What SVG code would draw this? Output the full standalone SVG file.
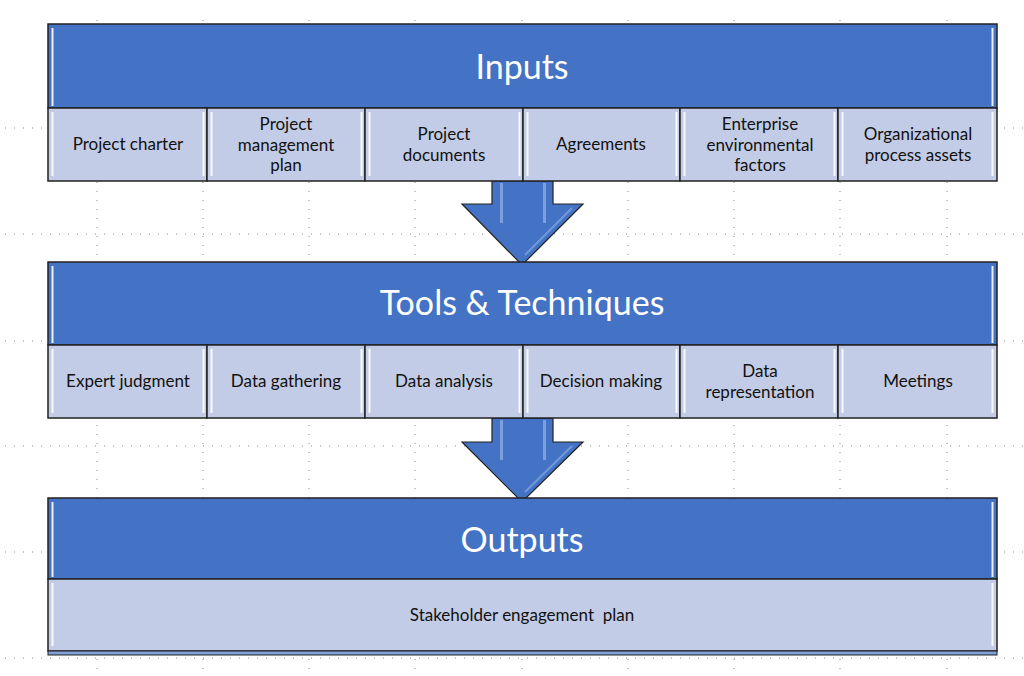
<svg xmlns="http://www.w3.org/2000/svg" width="1024" height="676" viewBox="0 0 1024 676">
<defs>
<style>
.grid{stroke:#8a8a8a;stroke-width:1;stroke-dasharray:1 8;fill:none}
.hdr{fill:#4472C4;stroke:#222;stroke-width:1.5}
.cell{fill:#C3CCE6;stroke:#222;stroke-width:1.5}
.ht{font-family:Lato,"Open Sans","Liberation Sans",sans-serif;font-size:34px;fill:#fff;text-anchor:middle}
.ct{font-family:Lato,"Open Sans","Liberation Sans",sans-serif;font-size:17px;fill:#111;text-anchor:middle}
.arrow{fill:#4472C4;stroke:#222;stroke-width:1.2}
.hl{fill:url(#hlg)}
</style>
<linearGradient id="hlg" x1="0" x2="1" y1="0" y2="0">
<stop offset="0" stop-color="#fff" stop-opacity="0.2"/>
<stop offset="0.5" stop-color="#fff" stop-opacity="0.9"/>
<stop offset="1" stop-color="#fff" stop-opacity="0.2"/>
</linearGradient>
</defs>
<rect width="1024" height="676" fill="#fff"/>
<g id="grid">
<path class="grid" d="M5 128H1024M5 234H1024M5 341H1024M5 446H1024M5 552H1024M5 658H1024"/>
<path class="grid" d="M97 20V676M203 20V676M309 20V676M415 20V676M522 20V676M628 20V676M734 20V676M840 20V676M947 20V676"/>
</g>
<g id="connectors">
<path class="arrow" d="M492 181H553V204H583L522 265L462 204H492Z"/>
<rect x="500" y="183" width="3" height="40" fill="#9fc0ef" opacity="0.6"/>
<rect x="543" y="183" width="3" height="40" fill="#9fc0ef" opacity="0.6"/>
<path d="M525 255L572 208" stroke="#8fb4ea" stroke-width="2" opacity="0.6"/>
<path class="arrow" d="M492 418H553V442H583L522 502L462 442H492Z"/>
<rect x="500" y="420" width="3" height="40" fill="#9fc0ef" opacity="0.6"/>
<rect x="543" y="420" width="3" height="40" fill="#9fc0ef" opacity="0.6"/>
<path d="M525 492L572 446" stroke="#8fb4ea" stroke-width="2" opacity="0.6"/>
</g>
<g id="inputs">
<rect class="hdr" x="48" y="24" width="949" height="84"/>
<rect class="hl" x="51" y="28" width="3" height="78"/>
<rect class="hl" x="991" y="28" width="3" height="78"/>
<text class="ht" x="522" y="79">Inputs</text>
</g>
<g id="in1"><rect class="cell" x="48" y="108" width="159" height="73"/><rect class="hl" x="51" y="112" width="3" height="64"/><rect class="hl" x="202" y="112" width="3" height="64"/><text class="ct" x="128" y="150">Project charter</text></g>
<g id="in2"><rect class="cell" x="207" y="108" width="158" height="73"/><rect class="hl" x="210" y="112" width="3" height="64"/><rect class="hl" x="360" y="112" width="3" height="64"/><text class="ct" x="286" y="130">Project</text><text class="ct" x="286" y="150.5">management</text><text class="ct" x="286" y="171">plan</text></g>
<g id="in3"><rect class="cell" x="365" y="108" width="158" height="73"/><rect class="hl" x="368" y="112" width="3" height="64"/><rect class="hl" x="518" y="112" width="3" height="64"/><text class="ct" x="444" y="140">Project</text><text class="ct" x="444" y="161">documents</text></g>
<g id="in4"><rect class="cell" x="523" y="108" width="157" height="73"/><rect class="hl" x="526" y="112" width="3" height="64"/><rect class="hl" x="675" y="112" width="3" height="64"/><text class="ct" x="601" y="150">Agreements</text></g>
<g id="in5"><rect class="cell" x="680" y="108" width="158" height="73"/><rect class="hl" x="683" y="112" width="3" height="64"/><rect class="hl" x="833" y="112" width="3" height="64"/><text class="ct" x="760" y="130">Enterprise</text><text class="ct" x="760" y="150.5">environmental</text><text class="ct" x="760" y="171">factors</text></g>
<g id="in6"><rect class="cell" x="838" y="108" width="159" height="73"/><rect class="hl" x="841" y="112" width="3" height="64"/><rect class="hl" x="991" y="112" width="3" height="64"/><text class="ct" x="918" y="140">Organizational</text><text class="ct" x="918" y="161">process assets</text></g>
<g id="tools">
<rect class="hdr" x="48" y="262" width="949" height="83"/>
<rect class="hl" x="51" y="266" width="3" height="77"/>
<rect class="hl" x="991" y="266" width="3" height="77"/>
<text class="ht" x="522" y="315">Tools &amp; Techniques</text>
</g>
<g id="t1"><rect class="cell" x="48" y="345" width="159" height="73"/><rect class="hl" x="51" y="349" width="3" height="64"/><rect class="hl" x="202" y="349" width="3" height="64"/><text class="ct" x="128" y="387">Expert judgment</text></g>
<g id="t2"><rect class="cell" x="207" y="345" width="158" height="73"/><rect class="hl" x="210" y="349" width="3" height="64"/><rect class="hl" x="360" y="349" width="3" height="64"/><text class="ct" x="286" y="387">Data gathering</text></g>
<g id="t3"><rect class="cell" x="365" y="345" width="158" height="73"/><rect class="hl" x="368" y="349" width="3" height="64"/><rect class="hl" x="518" y="349" width="3" height="64"/><text class="ct" x="444" y="387">Data analysis</text></g>
<g id="t4"><rect class="cell" x="523" y="345" width="157" height="73"/><rect class="hl" x="526" y="349" width="3" height="64"/><rect class="hl" x="675" y="349" width="3" height="64"/><text class="ct" x="601" y="387">Decision making</text></g>
<g id="t5"><rect class="cell" x="680" y="345" width="158" height="73"/><rect class="hl" x="683" y="349" width="3" height="64"/><rect class="hl" x="833" y="349" width="3" height="64"/><text class="ct" x="760" y="377">Data</text><text class="ct" x="760" y="397.5">representation</text></g>
<g id="t6"><rect class="cell" x="838" y="345" width="159" height="73"/><rect class="hl" x="841" y="349" width="3" height="64"/><rect class="hl" x="991" y="349" width="3" height="64"/><text class="ct" x="918" y="387">Meetings</text></g>
<g id="outputs">
<rect class="hdr" x="48" y="498" width="949" height="81"/>
<rect class="hl" x="51" y="502" width="3" height="75"/>
<rect class="hl" x="991" y="502" width="3" height="75"/>
<text class="ht" x="522" y="552">Outputs</text>
</g>
<g id="o1"><rect class="cell" x="48" y="579" width="949" height="72"/><rect class="hl" x="51" y="583" width="3" height="63"/><rect class="hl" x="991" y="583" width="3" height="63"/><rect x="48" y="651" width="949" height="4" fill="#7f9fd6" stroke="#222" stroke-width="1"/><text class="ct" x="522" y="621" style="white-space:pre" xml:space="preserve">Stakeholder engagement  plan</text></g>
</svg>
